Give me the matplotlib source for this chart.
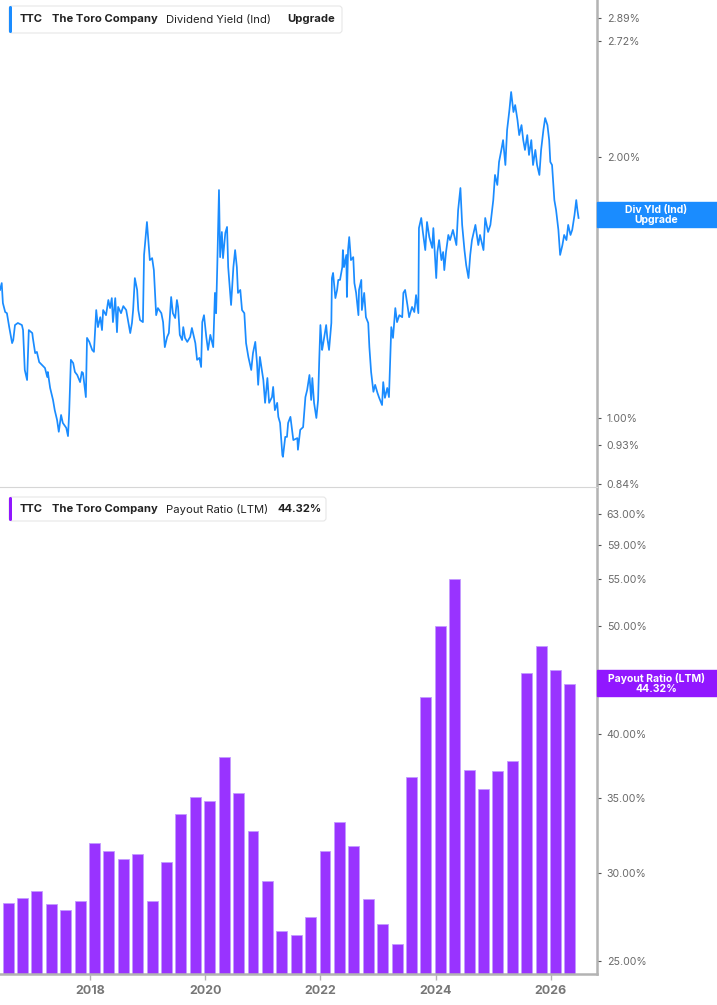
import numpy as np
import matplotlib
matplotlib.use("Agg")
import matplotlib.pyplot as plt
from matplotlib.patches import FancyBboxPatch, Rectangle
from matplotlib.ticker import NullLocator

plt.rcParams['font.family'] = ['Inter', 'DejaVu Sans']

W, H = 717, 1005

# Dividend Yield (Ind), % (decimal years)
yld_dates = [
    2016.44, 2016.47, 2016.49, 2016.53, 2016.56, 2016.60, 2016.65, 2016.67, 2016.70, 2016.75,
    2016.82, 2016.84, 2016.87, 2016.91, 2016.94, 2017.00, 2017.01, 2017.05, 2017.08, 2017.12,
    2017.17, 2017.22, 2017.26, 2017.27, 2017.31, 2017.36, 2017.39, 2017.43, 2017.46, 2017.50,
    2017.53, 2017.59, 2017.62, 2017.64, 2017.67, 2017.71, 2017.74, 2017.78, 2017.83, 2017.86,
    2017.88, 2017.93, 2017.95, 2017.99, 2018.04, 2018.07, 2018.11, 2018.14, 2018.18, 2018.21,
    2018.23, 2018.28, 2018.32, 2018.35, 2018.38, 2018.40, 2018.44, 2018.47, 2018.49, 2018.54,
    2018.58, 2018.63, 2018.66, 2018.70, 2018.73, 2018.75, 2018.78, 2018.82, 2018.84, 2018.87,
    2018.92, 2018.94, 2018.99, 2019.01, 2019.04, 2019.08, 2019.11, 2019.15, 2019.18, 2019.24,
    2019.27, 2019.30, 2019.34, 2019.37, 2019.41, 2019.44, 2019.48, 2019.51, 2019.53, 2019.56,
    2019.60, 2019.62, 2019.65, 2019.69, 2019.74, 2019.77, 2019.83, 2019.86, 2019.90, 2019.93,
    2019.95, 2019.98, 2020.02, 2020.05, 2020.09, 2020.14, 2020.17, 2020.19, 2020.21, 2020.24,
    2020.26, 2020.29, 2020.31, 2020.35, 2020.38, 2020.40, 2020.45, 2020.49, 2020.52, 2020.55,
    2020.57, 2020.61, 2020.64, 2020.68, 2020.71, 2020.75, 2020.80, 2020.83, 2020.87, 2020.90,
    2020.92, 2020.95, 2021.01, 2021.04, 2021.08, 2021.11, 2021.16, 2021.18, 2021.21, 2021.25,
    2021.27, 2021.30, 2021.34, 2021.35, 2021.39, 2021.42, 2021.44, 2021.48, 2021.53, 2021.60,
    2021.61, 2021.65, 2021.70, 2021.74, 2021.77, 2021.81, 2021.84, 2021.86, 2021.89, 2021.93,
    2021.96, 2021.98, 2022.00, 2022.03, 2022.05, 2022.10, 2022.12, 2022.15, 2022.19, 2022.20,
    2022.22, 2022.26, 2022.29, 2022.31, 2022.34, 2022.38, 2022.39, 2022.41, 2022.45, 2022.46,
    2022.48, 2022.50, 2022.53, 2022.57, 2022.59, 2022.62, 2022.66, 2022.67, 2022.71, 2022.72,
    2022.76, 2022.79, 2022.83, 2022.85, 2022.88, 2022.92, 2022.95, 2022.99, 2023.02, 2023.07,
    2023.09, 2023.12, 2023.16, 2023.19, 2023.23, 2023.26, 2023.30, 2023.33, 2023.37, 2023.42,
    2023.44, 2023.47, 2023.51, 2023.54, 2023.59, 2023.63, 2023.66, 2023.70, 2023.71, 2023.75,
    2023.78, 2023.82, 2023.85, 2023.89, 2023.94, 2023.96, 2024.01, 2024.03, 2024.06, 2024.10,
    2024.13, 2024.15, 2024.18, 2024.22, 2024.25, 2024.30, 2024.36, 2024.39, 2024.43, 2024.46,
    2024.50, 2024.53, 2024.57, 2024.60, 2024.63, 2024.69, 2024.74, 2024.77, 2024.83, 2024.86,
    2024.91, 2024.95, 2025.00, 2025.03, 2025.07, 2025.10, 2025.14, 2025.17, 2025.21, 2025.24,
    2025.28, 2025.31, 2025.35, 2025.38, 2025.42, 2025.45, 2025.49, 2025.52, 2025.55, 2025.59,
    2025.62, 2025.66, 2025.69, 2025.73, 2025.76, 2025.80, 2025.83, 2025.87, 2025.90, 2025.94,
    2025.97, 2025.99, 2026.02, 2026.06, 2026.09, 2026.13, 2026.16, 2026.20, 2026.23, 2026.27,
    2026.30, 2026.34, 2026.37, 2026.41, 2026.44, 2026.46, 2026.48,
]
yld_values = [
    1.405, 1.431, 1.357, 1.325, 1.321, 1.273, 1.220, 1.230, 1.280, 1.287,
    1.280, 1.263, 1.136, 1.106, 1.263, 1.253, 1.237, 1.188, 1.192, 1.160,
    1.151, 1.142, 1.115, 1.130, 1.083, 1.049, 1.021, 0.995, 0.964, 1.008,
    0.987, 0.974, 0.953, 1.013, 1.167, 1.157, 1.130, 1.121, 1.100, 1.130,
    1.127, 1.057, 1.237, 1.224, 1.198, 1.192, 1.332, 1.273, 1.307, 1.263,
    1.332, 1.314, 1.368, 1.339, 1.375, 1.290, 1.375, 1.256, 1.343, 1.321,
    1.346, 1.332, 1.297, 1.253, 1.287, 1.332, 1.450, 1.405, 1.332, 1.297,
    1.290, 1.542, 1.683, 1.617, 1.521, 1.529, 1.481, 1.314, 1.339, 1.321,
    1.290, 1.207, 1.240, 1.253, 1.379, 1.321, 1.304, 1.368, 1.343, 1.247,
    1.230, 1.273, 1.237, 1.224, 1.240, 1.270, 1.220, 1.167, 1.173, 1.145,
    1.290, 1.314, 1.240, 1.198, 1.247, 1.207, 1.394, 1.321, 1.493, 1.832,
    1.533, 1.639, 1.529, 1.635, 1.661, 1.493, 1.350, 1.493, 1.562, 1.493,
    1.394, 1.405, 1.332, 1.321, 1.220, 1.176, 1.136, 1.188, 1.224, 1.157,
    1.092, 1.176, 1.106, 1.041, 1.112, 1.041, 1.057, 1.086, 1.021, 1.041,
    1.003, 0.987, 0.906, 0.902, 0.951, 0.951, 0.987, 1.003, 0.943, 0.948,
    0.919, 0.969, 0.976, 1.057, 1.077, 1.121, 1.049, 1.112, 1.041, 1.000,
    1.049, 1.167, 1.280, 1.198, 1.220, 1.280, 1.237, 1.198, 1.287, 1.450,
    1.470, 1.375, 1.405, 1.443, 1.443, 1.493, 1.562, 1.493, 1.542, 1.379,
    1.562, 1.617, 1.521, 1.533, 1.431, 1.394, 1.314, 1.405, 1.443, 1.332,
    1.394, 1.307, 1.287, 1.207, 1.130, 1.072, 1.092, 1.069, 1.055, 1.035,
    1.100, 1.055, 1.083, 1.057, 1.273, 1.237, 1.339, 1.290, 1.314, 1.307,
    1.394, 1.405, 1.350, 1.307, 1.343, 1.325, 1.386, 1.321, 1.656, 1.701,
    1.635, 1.562, 1.683, 1.617, 1.571, 1.656, 1.450, 1.554, 1.604, 1.521,
    1.554, 1.481, 1.554, 1.626, 1.604, 1.648, 1.583, 1.737, 1.842, 1.670,
    1.562, 1.501, 1.450, 1.542, 1.604, 1.670, 1.583, 1.626, 1.562, 1.701,
    1.639, 1.670, 1.784, 1.907, 1.857, 1.974, 2.038, 2.092, 1.958, 2.149,
    2.266, 2.377, 2.254, 2.296, 2.207, 2.120, 2.177, 2.092, 2.038, 2.120,
    2.011, 2.092, 1.958, 2.038, 1.958, 1.907, 2.038, 2.149, 2.218, 2.177,
    2.092, 1.974, 1.958, 1.784, 1.737, 1.648, 1.542, 1.583, 1.626, 1.604,
    1.670, 1.626, 1.648, 1.715, 1.784, 1.737, 1.701,
]

# Payout Ratio (LTM), %, one bar per fiscal quarter
payout_dates = 2016.58 + 0.25 * np.arange(40)
payout_values = [
    28.2, 28.5, 28.9, 28.1, 27.8, 28.3, 31.9, 31.4, 30.9, 31.2,
    28.3, 30.7, 33.9, 35.1, 34.8, 38.1, 35.4, 32.7, 29.5, 26.6,
    26.4, 27.4, 31.4, 33.3, 31.7, 28.4, 27.0, 25.9, 36.6, 43.1,
    50.0, 55.1, 37.1, 35.7, 37.0, 37.8, 45.3, 47.9, 45.6, 44.32,
]

yld_ticks = [0.84, 0.93, 1.00, 2.00, 2.72, 2.89]
payout_ticks = [25, 30, 35, 40, 50, 55, 59, 63]
year_ticks = [2018, 2020, 2022, 2024, 2026]

blue = '#1a8cff'
purple = '#9933ff'
box_purple = '#9117ff'
spine = '#b3b3b3'
tick_txt = '#6a6a6a'


def fx(x):
    return x / W


def fy(y):
    return 1 - y / H


fig = plt.figure(figsize=(W / 100, H / 100), dpi=100)
fig.patch.set_facecolor('white')

ax1 = fig.add_axes([0, fy(487), fx(597), 487 / H])
ax2 = fig.add_axes([0, fy(974), fx(597), (974 - 489) / H])

for ax in (ax1, ax2):
    ax.set_xlim(2016.44, 2026.80)
    ax.set_yscale('log')
    ax.spines['top'].set_visible(False)
    ax.spines['left'].set_visible(False)
    ax.spines['right'].set_color(spine)
    ax.spines['right'].set_linewidth(1.8)
    ax.yaxis.tick_right()
    ax.yaxis.set_minor_locator(NullLocator())
    ax.tick_params(axis='y', length=3, width=0.8, color='#555555', pad=4,
                   labelsize=7.6, labelcolor=tick_txt)

# top panel: dividend yield line
ax1.plot(yld_dates, yld_values, color=blue, lw=1.25)
ax1.set_ylim(0.8325, 3.035)
ax1.set_yticks(yld_ticks)
ax1.set_yticklabels([f'{v:.2f}%' for v in yld_ticks])
ax1.set_xticks([])
ax1.spines['bottom'].set_color('#d6d6d6')
ax1.spines['bottom'].set_linewidth(0.8)

# bottom panel: payout ratio bars
low = 24.34
ax2.set_ylim(low, 66.3)
ax2.bar(payout_dates, [v - low for v in payout_values], bottom=low, width=0.19,
        color=purple, edgecolor='#c39bff', linewidth=0.6)
ax2.set_yticks(payout_ticks)
ax2.set_yticklabels([f'{v:.2f}%' for v in payout_ticks])
ax2.set_xticks(year_ticks)
ax2.set_xticklabels([str(y) for y in year_ticks])
ax2.spines['bottom'].set_color(spine)
ax2.spines['bottom'].set_linewidth(1.8)
ax2.tick_params(axis='x', length=4, width=1, color=spine, pad=4,
                labelsize=9, labelcolor='#777777')
for lab in ax2.get_xticklabels():
    lab.set_fontweight('bold')


def legend_box(top, bottom, right, accent, parts):
    box = FancyBboxPatch((9, H - bottom), right - 9, bottom - top,
                         boxstyle='round,pad=0,rounding_size=3',
                         facecolor='white', edgecolor='#e6e6e6', lw=0.8,
                         transform=None, zorder=5)
    fig.add_artist(box)
    bar = FancyBboxPatch((9, H - bottom), 3, bottom - top,
                         boxstyle='round,pad=0,rounding_size=1.5',
                         facecolor=accent, edgecolor='none',
                         transform=None, zorder=6)
    fig.add_artist(bar)
    yc = (top + bottom) / 2
    for x, s, w in parts:
        fig.text(fx(x), fy(yc), s, fontsize=8.1, fontweight=w, color='#222222',
                 va='center', ha='left', zorder=7)


legend_box(6, 33, 342, blue, [(20, 'TTC', 'bold'), (52, 'The Toro Company', 'bold'),
                              (166, 'Dividend Yield (Ind)', 'normal'), (287, 'Upgrade', 'bold')])
legend_box(497, 521, 326, box_purple, [(20, 'TTC', 'bold'), (52, 'The Toro Company', 'bold'),
                                       (166, 'Payout Ratio (LTM)', 'normal'), (277, '44.32%', 'bold')])

# value tags on the right axis
fig.add_artist(Rectangle((fx(597), fy(227)), (W - 597) / W, 25 / H,
                         transform=fig.transFigure, color=blue, zorder=5))
fig.text(fx(656), fy(214.5), 'Div Yld (Ind)\nUpgrade', ha='center', va='center',
         color='white', fontsize=7.5, fontweight='bold', linespacing=1.0, zorder=6)
fig.add_artist(Rectangle((fx(597), fy(696)), (W - 597) / W, 26 / H,
                         transform=fig.transFigure, color=box_purple, zorder=5))
fig.text(fx(656), fy(683), 'Payout Ratio (LTM)\n44.32%', ha='center', va='center',
         color='white', fontsize=7.5, fontweight='bold', linespacing=1.0, zorder=6)

fig.savefig('out.png', dpi=100, facecolor='white')
